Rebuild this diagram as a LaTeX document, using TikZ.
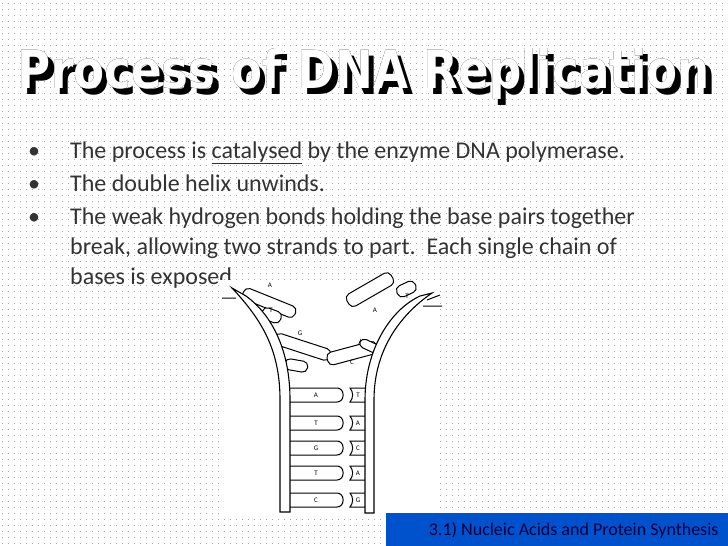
\documentclass[tikz,border=0pt]{standalone}
\usepackage{fontspec}
\setmainfont{Carlito}
\newfontfamily\titlefont{DejaVu Sans Bold}
\usepackage[outline]{contour}
\contourlength{1.3pt}
\begin{document}
\begin{tikzpicture}[x=1pt,y=-1pt,
  bul/.style={anchor=base west,font=\fontsize{24}{28}\selectfont,text=black!80,inner sep=0},
  basebar/.style={draw,line width=1pt,rounded corners=5pt,fill=white},
  strand/.style={draw,line width=1.1pt,fill=white}]
\useasboundingbox (0,0) rectangle (728,546);
\fill[white] (0,0) rectangle (728,546);
% dotted grid
\foreach \yy in {3,9,...,546}
  \draw[gray!70,line width=0.9pt,dash pattern=on 0.9pt off 5.1pt] (2,\yy) -- (728,\yy);
% title (shadow + outlined)
\node[anchor=center] (title) at (364,77) {\resizebox{692pt}{40pt}{\titlefont\rlap{\hspace{0.12em}\raisebox{-0.1em}{\textcolor{black}{Process of DNA Replication}}}\contour{black}{\textcolor{white}{Process of DNA Replication}}}};
% bullets
\node[bul] (b1) at (28,158) {•};
\node[bul] (t1) at (70,158) {The process is \underline{catalysed} by the enzyme DNA polymerase.};
\node[bul] (b2) at (28,191) {•};
\node[bul] (t2) at (70,191) {The double helix unwinds.};
\node[bul] (b3) at (28,224) {•};
\node[bul] (t3) at (70,224) {The weak hydrogen bonds holding the base pairs together};
\node[bul] (t4) at (70,254) {break, allowing two strands to part.\ \ Each single chain of};
\node[bul] (t5) at (70,284) {bases is exposed.};
% picture area
\fill[white] (220,280) rectangle (440,515);
% paired rungs
\foreach \yy/\la/\lb in {395/A/T,423/T/A,448/G/C,473/T/A,500/C/G}{
  \draw[basebar,rounded corners=6pt] (284,\yy-7) rectangle (343,\yy+7);
  \node[font=\scriptsize] at (316,\yy) {\la};
  \draw[line width=1pt,fill=white] (368,\yy-7) -- (350,\yy-7) to[bend left=40] (350,\yy+7) -- (368,\yy+7);
  \node[font=\scriptsize] at (358,\yy) {\lb};
}
% free bases
\draw[basebar,rotate around={-22:(240,290)}] (244,285) rectangle (300,297);
\node[font=\scriptsize] at (270,285) {A};
\draw[basebar,rotate around={-20:(262,312)}] (262,306) rectangle (282,318);
\node[font=\scriptsize] at (271,310) {T};
\draw[basebar,rotate around={-18:(275,338)}] (275,332) rectangle (333,344);
\node[font=\scriptsize] at (300,333) {G};
\draw[basebar,rotate around={-10:(285,363)}] (285,358) rectangle (308,369);
\draw[basebar,rotate around={30:(350,300)}] (347,294) rectangle (398,308);
\node[font=\scriptsize] at (375,310) {A};
\draw[basebar,rotate around={25:(400,292)}] (397,286) rectangle (417,298);
\node[font=\scriptsize] at (407,296) {T};
\draw[basebar,rotate around={15:(328,358)}] (327,353) rectangle (378,366);
\node[font=\scriptsize] at (352,362) {C};
\draw[basebar,rotate around={-25:(362,342)}] (360,338) rectangle (385,347);
% strands
\path[strand] (232,288) .. controls (262,320) and (280,350) .. (280,400) -- (280,512) -- (290,512) -- (290,400) .. controls (290,350) and (272,315) .. (246,296) -- cycle;
\path[strand] (432,293) .. controls (400,315) and (374,350) .. (374,400) -- (374,513) -- (365,513) -- (365,400) .. controls (365,350) and (390,310) .. (420,296) -- cycle;
\draw[line width=1pt] (222,298) -- (236,298) (423,306) -- (442,306) (427,300) -- (440,295);
% footer
\fill[blue!60!cyan!80!black] (386,513) rectangle (728,546);
\node[anchor=east,font=\fontsize{18}{20}\selectfont,text=blue!25!black] (foot) at (722,530) {3.1) Nucleic Acids and Protein Synthesis};
\end{tikzpicture}
\end{document}
